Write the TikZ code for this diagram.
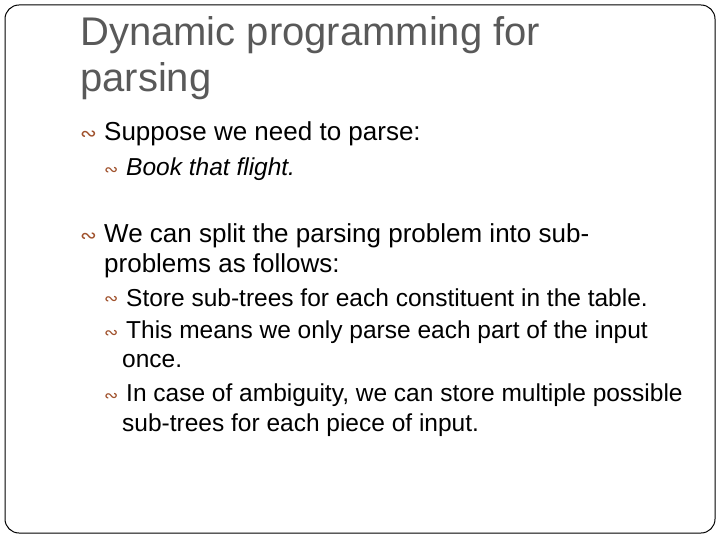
\documentclass[tikz,border=0pt]{standalone}
\usepackage{fontspec}
\setmainfont{Liberation Sans}
\newfontfamily\symfont{DejaVu Sans}
\definecolor{ttl}{HTML}{595959}
\definecolor{bul}{HTML}{A0522D}
\begin{document}
\begin{tikzpicture}[x=1pt,y=-1pt,
  ttlstyle/.style={anchor=west,inner sep=0,text=ttl,font=\fontsize{40}{44}\selectfont},
  lvone/.style={anchor=west,inner sep=0,font=\fontsize{26}{30}\selectfont},
  lvtwo/.style={anchor=west,inner sep=0,font=\fontsize{24.5}{28}\selectfont},
  bulone/.style={anchor=west,inner sep=0,text=bul,font=\symfont\fontsize{20}{22}\selectfont},
  bultwo/.style={anchor=west,inner sep=0,text=bul,font=\symfont\fontsize{17}{18}\selectfont}]
\useasboundingbox (0,0) rectangle (720,540);
\draw[line width=1pt,rounded corners=14pt] (5,5) rectangle (715,533);
\node[ttlstyle] (t1) at (80,35) {Dynamic programming for};
\node[ttlstyle] (t2) at (80,81) {parsing};
\node[bulone] (b1) at (80,136) {∾};
\node[lvone] (l1) at (104,134) {Suppose we need to parse:};
\node[bultwo] (b2) at (104,171) {∾};
\node[lvtwo] (l2) at (126,169) {\itshape Book that flight.};
\node[bulone] (b3) at (80,238) {∾};
\node[lvone] (l3) at (104,236) {We can split the parsing problem into sub-};
\node[lvone] (l4) at (104,266) {problems as follows:};
\node[bultwo] (b4) at (104,300) {∾};
\node[lvtwo] (l5) at (126,298) {Store sub-trees for each constituent in the table.};
\node[bultwo] (b5) at (104,334) {∾};
\node[lvtwo] (l6) at (126,332) {This means we only parse each part of the input};
\node[lvtwo] (l7) at (122,361) {once.};
\node[bultwo] (b6) at (104,397) {∾};
\node[lvtwo] (l8) at (126,395) {In case of ambiguity, we can store multiple possible};
\node[lvtwo] (l9) at (122,425) {sub-trees for each piece of input.};
\end{tikzpicture}
\end{document}
